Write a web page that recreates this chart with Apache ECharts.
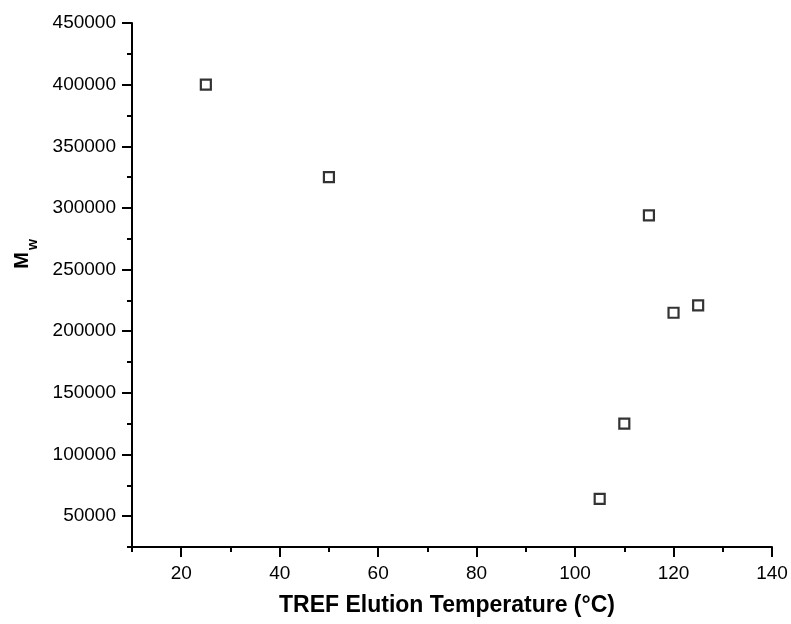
<!DOCTYPE html>
<html>
<head>
<meta charset="utf-8">
<script src="https://cdn.jsdelivr.net/npm/echarts@6/dist/echarts.min.js"></script>
<style>html,body{margin:0;padding:0;background:#fff;}#c{width:791px;height:624px;}</style>
</head>
<body>
<div id="c"></div>
<script>
var tempC = [25, 50, 105, 110, 115, 120, 125];
var mw = [400000, 325000, 64000, 125000, 294000, 215000, 221000];
var xTicks = [20, 40, 60, 80, 100, 120, 140];
var xMinorTicks = [10, 30, 50, 70, 90, 110, 130];
var yTicks = [50000, 100000, 150000, 200000, 250000, 300000, 350000, 400000, 450000];
var yMinorTicks = [25000, 75000, 125000, 175000, 225000, 275000, 325000, 375000, 425000];

var chart = echarts.init(document.getElementById('c'), null, {renderer: 'canvas'});
var font = 'Liberation Sans, Arial, sans-serif';
var black = '#000';
var plain = function (v) { return String(v); };
chart.setOption({
  animation: false,
  backgroundColor: '#fff',
  grid: {left: 132, right: 19, top: 23, bottom: 77, outerBoundsMode: 'none', containLabel: false},
  xAxis: [{
    type: 'value', min: 10, max: 140,
    name: 'TREF Elution Temperature (°C)', nameLocation: 'middle', nameGap: 47,
    nameTextStyle: {color: black, fontSize: 23, fontWeight: 'bold', fontFamily: font, padding: [0, 10, 0, 0]},
    axisLine: {show: true, lineStyle: {color: black, width: 2}},
    axisTick: {show: true, inside: false, length: 10, customValues: xTicks, lineStyle: {color: black, width: 2}},
    axisLabel: {color: black, fontSize: 19, fontFamily: font, margin: 17, customValues: xTicks, formatter: plain},
    splitLine: {show: false}
  }, {
    type: 'value', min: 10, max: 140, position: 'bottom',
    axisLine: {show: false},
    axisTick: {show: true, inside: false, length: 5, customValues: xMinorTicks, lineStyle: {color: black, width: 2}},
    axisLabel: {show: false},
    splitLine: {show: false}
  }],
  yAxis: [{
    type: 'value', min: 25000, max: 450000,
    name: '{a|M}{b|w}', nameLocation: 'middle', nameGap: 92, nameRotate: 90,
    nameTextStyle: {color: black, fontFamily: font, padding: [0, 0, 0, 62],
      rich: {a: {fontSize: 20, fontWeight: 'bold', fontFamily: font, color: black},
             b: {fontSize: 14, fontWeight: 'bold', fontFamily: font, color: black, padding: [22, 0, 0, 2]}}},
    axisLine: {show: true, lineStyle: {color: black, width: 2}},
    axisTick: {show: true, inside: false, length: 10, customValues: yTicks, lineStyle: {color: black, width: 2}},
    axisLabel: {color: black, fontSize: 19, fontFamily: font, margin: 16, customValues: yTicks, formatter: plain},
    splitLine: {show: false}
  }, {
    type: 'value', min: 25000, max: 450000, position: 'left',
    axisLine: {show: false},
    axisTick: {show: true, inside: false, length: 5, customValues: yMinorTicks, lineStyle: {color: black, width: 2}},
    axisLabel: {show: false},
    splitLine: {show: false}
  }],
  series: [{
    type: 'scatter',
    xAxisIndex: 0, yAxisIndex: 0,
    data: tempC.map(function (t, i) { return [t, mw[i]]; }),
    symbol: 'rect', symbolSize: 10,
    itemStyle: {color: '#fff', borderColor: black, borderWidth: 2.2}
  }]
});
</script>
</body>
</html>
